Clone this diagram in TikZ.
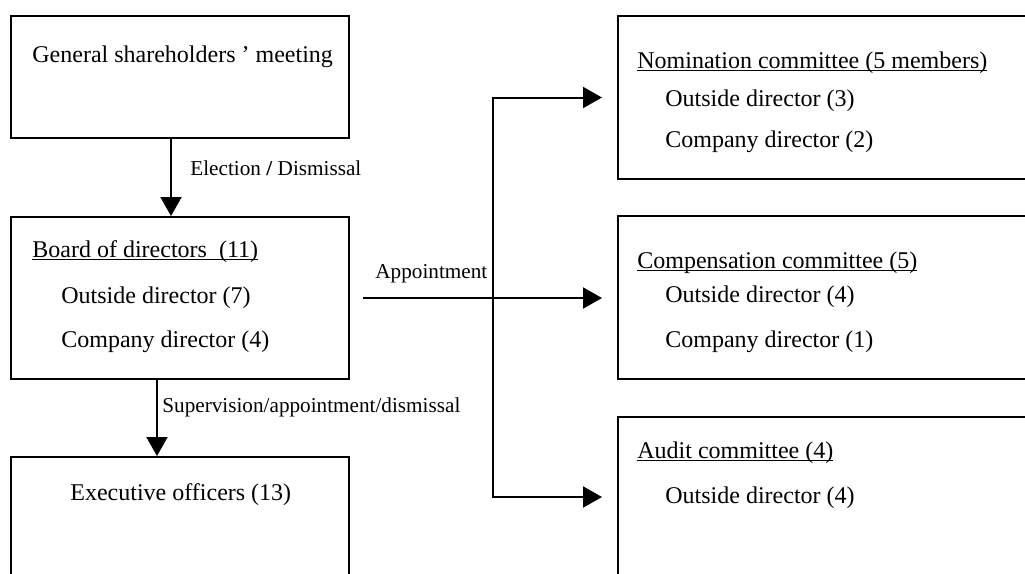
\documentclass[tikz,border=0pt]{standalone}
\usepackage{fontspec}
\setmainfont{Liberation Serif}
\usetikzlibrary{arrows.meta}
\newcommand{\myul}[1]{\leavevmode\setbox0\hbox{#1}\rlap{\rule[-1.6pt]{\wd0}{0.6pt}}\box0}
\tikzset{
  box/.style={draw, line width=1pt, rectangle, inner sep=0pt},
  txt/.style={anchor=base west, inner sep=0pt, font=\fontsize{12}{14}\selectfont},
  lbl/.style={anchor=base west, inner sep=0pt, font=\fontsize{10.6}{12}\selectfont},
  arr/.style={line width=1pt, -{Triangle[length=9.5pt,width=10.5pt]}},
}
\begin{document}
\begin{tikzpicture}[x=0.5pt,y=-0.5pt]
\clip (0,0) rectangle (1025,574);
\fill[white] (0,0) rectangle (1025,574);
% boxes
\node[box, minimum width=169pt, minimum height=61pt] (gsm) at (180,77) {};
\node[box, minimum width=169pt, minimum height=81pt] (board) at (180,298) {};
\node[box, minimum width=169pt, minimum height=81.5pt] (exec) at (180,538.5) {};
\node[box, minimum width=211pt, minimum height=81.5pt] (nom) at (829,97.5) {};
\node[box, minimum width=211pt, minimum height=81.5pt] (comp) at (829,297.5) {};
\node[box, minimum width=211pt, minimum height=80pt] (audit) at (829,497) {};
% texts
\node[txt] (t1) at (32,62) {General shareholders ’ meeting};
\node[txt] (t2) at (32,257) {\myul{Board of directors\ \ (11)}};
\node[txt] (t3) at (61,303) {Outside director (7)};
\node[txt] (t4) at (61,347) {Company director (4)};
\node[txt] (t5) at (70,500) {Executive officers (13)};
\node[txt] (t6) at (637,68) {\myul{Nomination committee (5 members)}};
\node[txt] (t7) at (665,106) {Outside director (3)};
\node[txt] (t8) at (665,147) {Company director (2)};
\node[txt] (t9) at (637,268) {\myul{Compensation committee\ (5)}};
\node[txt] (t10) at (665,302) {Outside director (4)};
\node[txt] (t11) at (665,347) {Company director (1)};
\node[txt] (t12) at (637,458) {\myul{Audit committee (4)}};
\node[txt] (t13) at (665,503) {Outside director (4)};
% labels
\node[lbl] (l1) at (190,175) {Election \textbf{/} Dismissal};
\node[lbl] (l2) at (375,278) {Appointment};
\node[lbl] (l3) at (162,412) {Supervision/appointment/dismissal};
% connectors
\coordinate (c1) at (171,0);
\coordinate (c2) at (157,0);
\draw[arr] (gsm.south -| c1) -- (board.north -| c1);
\draw[arr] (board.south -| c2) -- (exec.north -| c2);
\draw[arr, shorten <=6.5pt, shorten >=7.5pt] (board.east) -- (board.east -| comp.west);
\coordinate (j) at (493,297);
\draw[arr, shorten >=7.5pt] (j) |- (nom.west);
\draw[arr, shorten >=7.5pt] (j) |- (audit.west);
\end{tikzpicture}
\end{document}
